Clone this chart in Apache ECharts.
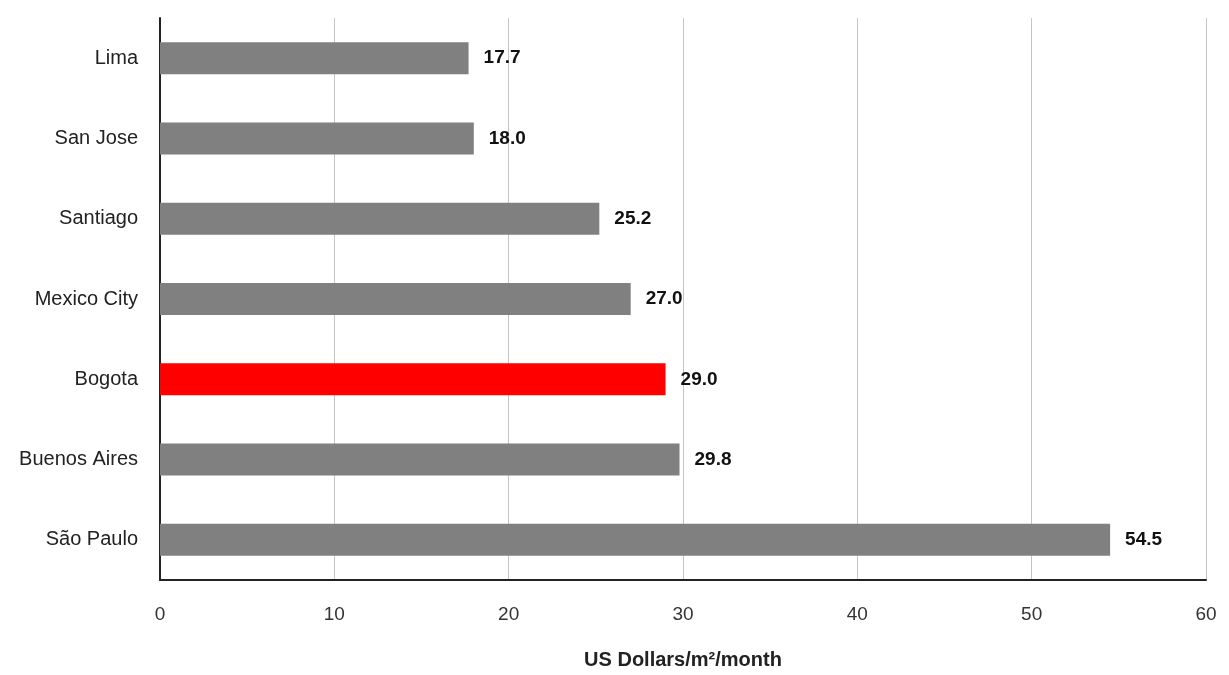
<!DOCTYPE html>
<html><head><meta charset="utf-8">
<script src="https://cdn.jsdelivr.net/npm/echarts@6/dist/echarts.min.js"></script>
<style>html,body{margin:0;padding:0;background:#fff}#c{width:1229px;height:675px}</style>
</head><body><div id="c"></div>
<script>
const categories = ["Lima", "San Jose", "Santiago", "Mexico City", "Bogota", "Buenos Aires", "São Paulo"];
const values = [17.7, 18.0, 25.2, 27.0, 29.0, 29.8, 54.5];
const highlight = "Bogota";
const xTicks = { min: 0, max: 60, interval: 10 };
const axisName = "US Dollars/m²/month";

const chart = echarts.init(document.getElementById('c'));
chart.setOption({
  animation: false,
  grid: { left: 160, right: 23, top: 18, bottom: 84, containLabel: false },
  xAxis: {
    type: 'value', min: xTicks.min, max: xTicks.max, interval: xTicks.interval,
    name: axisName, nameLocation: 'middle', nameGap: 70,
    nameTextStyle: { fontFamily: 'Liberation Sans, Arial', fontSize: 20, fontWeight: 'bold', color: '#222' },
    axisLine: { show: true, lineStyle: { color: '#222', width: 2 } },
    axisTick: { show: false },
    axisLabel: { fontFamily: 'Liberation Sans, Arial', fontSize: 19, color: '#333', margin: 25 },
    splitLine: { show: true, lineStyle: { color: '#c4c4c4', width: 1 } }
  },
  yAxis: {
    type: 'category', data: categories, inverse: true,
    axisLine: { show: true, lineStyle: { color: '#222', width: 2 } },
    axisTick: { show: false },
    axisLabel: { fontFamily: 'Liberation Sans, Arial', fontSize: 20, color: '#222', margin: 22 }
  },
  series: [{
    type: 'bar', barWidth: 32,
    data: values.map((v, i) => ({
      value: v,
      itemStyle: { color: categories[i] === highlight ? '#ff0000' : '#808080' }
    })),
    label: {
      show: true, position: 'right', distance: 15,
      formatter: p => p.value.toFixed(1),
      fontFamily: 'Liberation Sans, Arial', fontSize: 19, fontWeight: 'bold', color: '#111'
    }
  }]
});
</script></body></html>
